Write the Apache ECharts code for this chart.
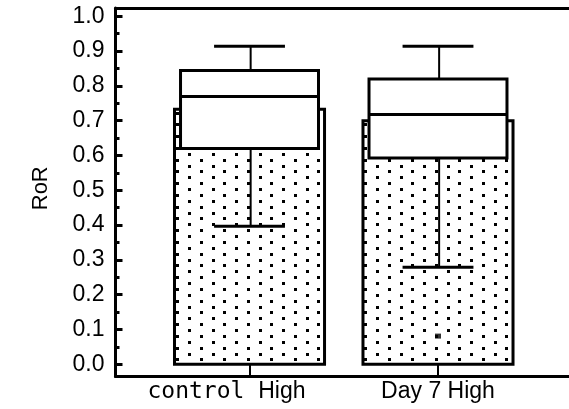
<!DOCTYPE html>
<html><head><meta charset="utf-8">
<script src="https://cdn.jsdelivr.net/npm/echarts@6/dist/echarts.min.js"></script>
<style>html,body{margin:0;padding:0;background:#fff}#c{width:569px;height:409px}</style>
</head><body><div id="c"></div>
<script>
const categories = ['control High', 'Day 7 High'];
const categoryPos = [1, 2];
const meanValues = [0.733, 0.700];
const whiskerLow = [0.397, 0.279];
const quartile1 = [0.620, 0.593];
const medians = [0.7695, 0.718];
const quartile3 = [0.844, 0.820];
const whiskerHigh = [0.914, 0.914];
const outlierCategory = [2];
const outlierValue = [0.081];
const yTickValues = [0, 0.1, 0.2, 0.3, 0.4, 0.5, 0.6, 0.7, 0.8, 0.9, 1.0];
const yMinorTickValues = [0.05, 0.15, 0.25, 0.35, 0.45, 0.55, 0.65, 0.75, 0.85, 0.95];
const yMin = -0.0351, yMax = 1.0239;
const xMin = 0.289, xMax = 2.695;

const FONT = 'Liberation Sans';

// dotted fill pattern
const pc = document.createElement('canvas');
pc.width = 47; pc.height = 47;
const pctx = pc.getContext('2d');
pctx.fillStyle = '#fff'; pctx.fillRect(0, 0, 47, 47);
pctx.fillStyle = '#000';
for (let r = 0; r < 8; r++) {
  const y = Math.round(r * 5.875);
  const off = (r % 2) * 11.75;
  for (let k = 0; k < 2; k++) {
    const x = Math.round(off + k * 23.5);
    pctx.fillRect(x, y, 3, 3);
  }
}
const dotPattern = { image: pc, repeat: 'repeat' };

const boxData = categoryPos.map((c, i) => [c, meanValues[i], whiskerLow[i], quartile1[i], medians[i], quartile3[i], whiskerHigh[i]]);

const BAR_HALF = 0.398, BOX_HALF = 0.366, CAP_HALF = 0.188;

function renderItem(params, api) {
  const x = api.value(0);
  const mean = api.value(1), low = api.value(2), q1 = api.value(3), med = api.value(4), q3 = api.value(5), high = api.value(6);
  const pt = (dx, v) => api.coord([x + dx, v]);
  const b0 = pt(-BAR_HALF, mean), b1 = pt(BAR_HALF, 0);
  const k0 = pt(-BOX_HALF, q3), k1 = pt(BOX_HALF, q1);
  const line = (p, q, w) => ({ type: 'line', shape: { x1: p[0], y1: p[1], x2: q[0], y2: q[1] }, style: { stroke: '#000', lineWidth: w } });
  return {
    type: 'group',
    children: [
      { type: 'rect', shape: { x: b0[0], y: b0[1], width: b1[0] - b0[0], height: b1[1] - b0[1] }, style: { fill: dotPattern, stroke: '#000', lineWidth: 3 } },
      line(pt(0.006, q3), pt(0.006, high), 2),
      line(pt(0.006, q1), pt(0.006, low), 2),
      { type: 'rect', shape: { x: k0[0], y: k0[1], width: k1[0] - k0[0], height: k1[1] - k0[1] }, style: { fill: '#fff', stroke: '#000', lineWidth: 3 } },
      line(pt(-BOX_HALF, med), pt(BOX_HALF, med), 3),
      line(pt(-CAP_HALF, high), pt(CAP_HALF, high), 3),
      line(pt(-CAP_HALF, low), pt(CAP_HALF, low), 3)
    ]
  };
}

function xLabel(v) {
  const name = categories[Math.round(v) - 1];
  if (name === 'control High') return '{m|control }{h|High}';
  return name;
}

const chart = echarts.init(document.getElementById('c'), null, { renderer: 'canvas' });
chart.setOption({
  animation: false,
  backgroundColor: '#fff',
  grid: { left: 115.5, right: 0, top: 8, bottom: 32.5, containLabel: false, outerBoundsMode: 'none' },
  xAxis: [
    {
      type: 'value', min: xMin, max: xMax, position: 'bottom',
      axisLine: { show: true, onZero: false, lineStyle: { color: '#000', width: 3 } },
      axisTick: { show: true, inside: true, length: 12, customValues: categoryPos, lineStyle: { color: '#000', width: 2 } },
      axisLabel: {
        customValues: categoryPos, formatter: xLabel, fontFamily: FONT, fontSize: 23, color: '#000', margin: 4, hideOverlap: false,
        rich: {
          m: { fontFamily: 'DejaVu Sans Mono', fontSize: 23, color: '#000' },
          h: { fontFamily: FONT, fontSize: 23, color: '#000', padding: [0, 46, 0, 0] }
        }
      },
      splitLine: { show: false }
    },
    {
      type: 'value', min: xMin, max: xMax, position: 'top',
      axisLine: { show: true, onZero: false, lineStyle: { color: '#000', width: 3 } },
      axisTick: { show: false }, axisLabel: { show: false }, splitLine: { show: false }
    }
  ],
  yAxis: [
    {
      type: 'value', min: yMin, max: yMax, position: 'left',
      name: 'RoR', nameLocation: 'middle', nameGap: 64,
      nameTextStyle: { fontFamily: FONT, fontSize: 22, color: '#000', padding: [0, 0, 0, 8] },
      axisLine: { show: true, onZero: false, lineStyle: { color: '#000', width: 3 } },
      axisTick: { show: true, inside: true, length: 7, customValues: yTickValues, lineStyle: { color: '#000', width: 3 } },
      axisLabel: { customValues: yTickValues, formatter: v => v.toFixed(1), fontFamily: FONT, fontSize: 23, color: '#000', margin: 11, padding: [0, 0, 8, 0] },
      splitLine: { show: false }
    },
    {
      type: 'value', min: yMin, max: yMax, position: 'left',
      axisLine: { show: false, onZero: false },
      axisTick: { show: true, inside: true, length: 4, customValues: yMinorTickValues, lineStyle: { color: '#000', width: 3 } },
      axisLabel: { show: false }, splitLine: { show: false }
    }
  ],
  series: [
    {
      type: 'custom', xAxisIndex: 0, yAxisIndex: 0, z: 2,
      renderItem: renderItem,
      encode: { x: 0, y: [1, 2, 3, 4, 5, 6] },
      data: boxData
    },
    {
      type: 'scatter', xAxisIndex: 0, yAxisIndex: 0, z: 3,
      symbol: 'rect', symbolSize: [6, 5],
      itemStyle: { color: '#000' },
      data: outlierCategory.map((c, i) => [c, outlierValue[i]])
    }
  ]
});
</script></body></html>
